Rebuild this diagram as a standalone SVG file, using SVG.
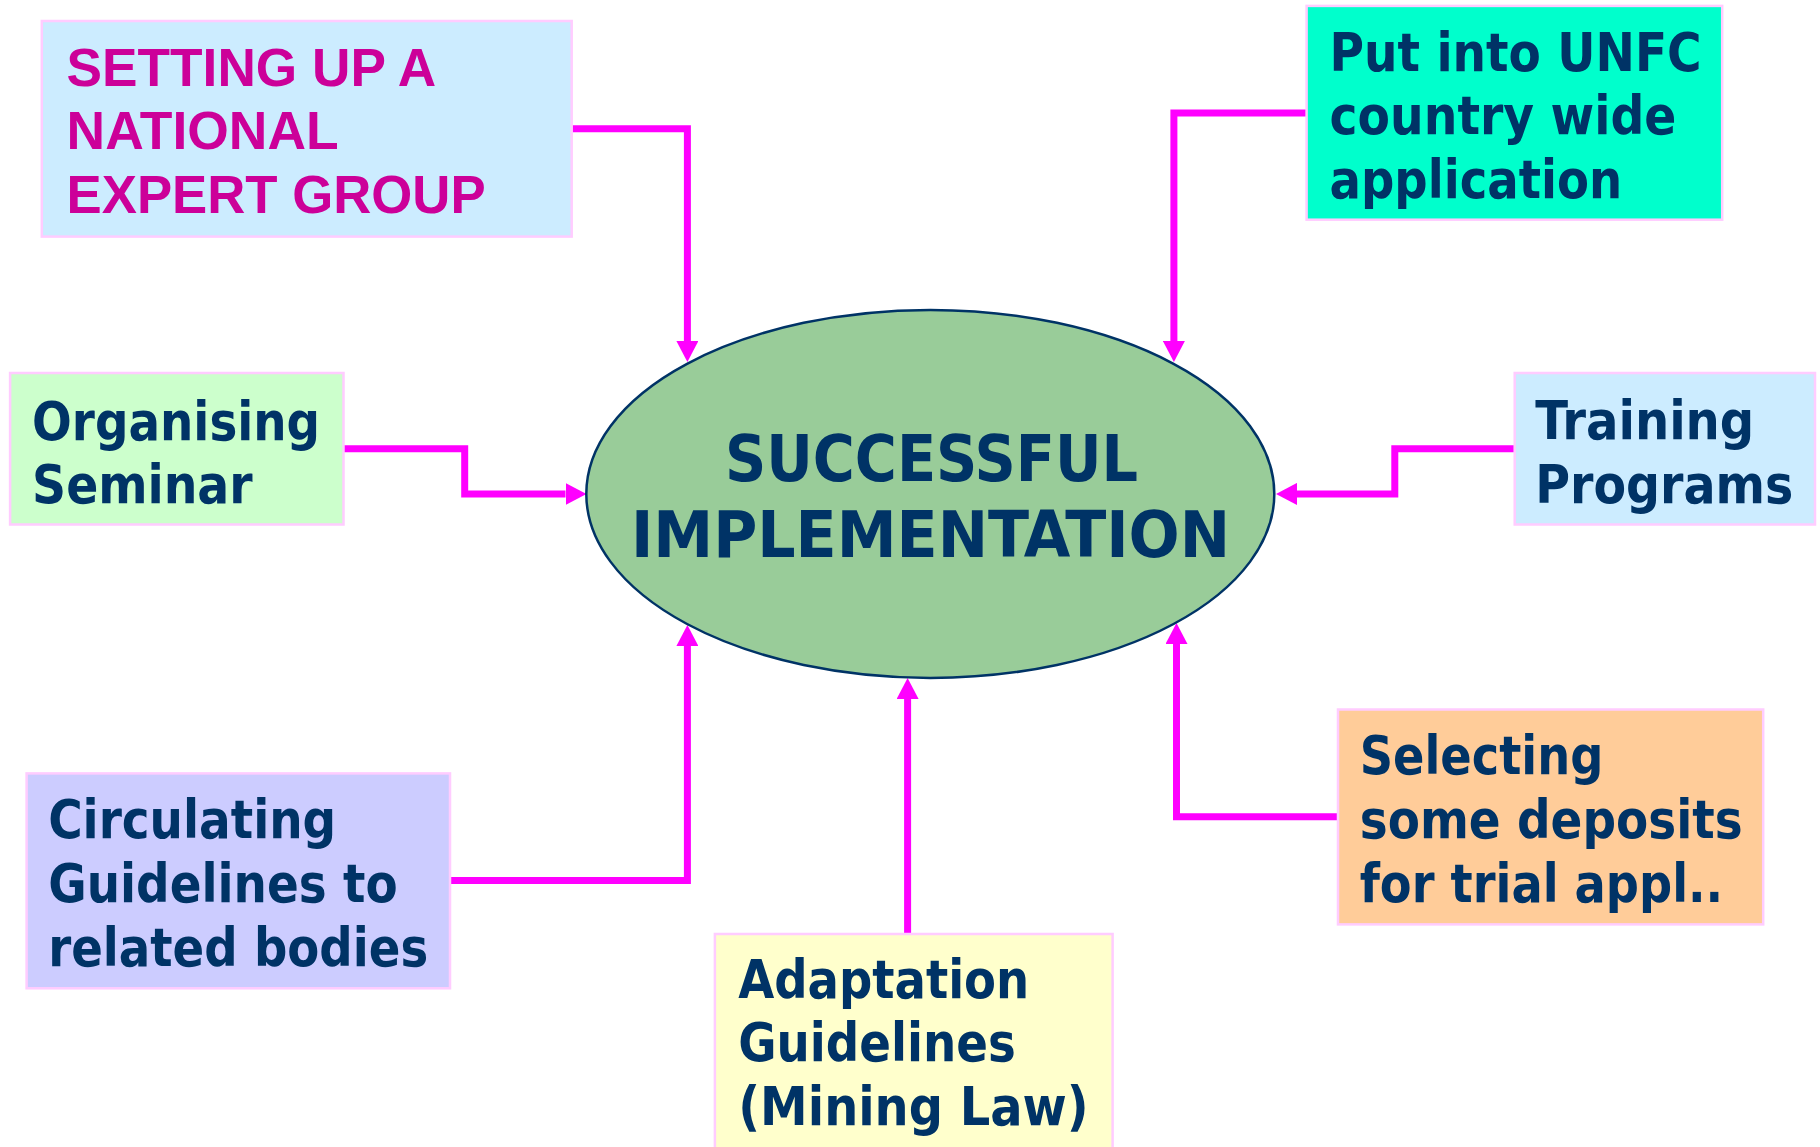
<svg xmlns="http://www.w3.org/2000/svg" width="1820" height="1147" viewBox="0 0 1820 1147">
<style>
.box{stroke:#FFCCFF;stroke-width:2.5}
.t{font-family:"DejaVu Sans Condensed","DejaVu Sans","Liberation Sans",sans-serif;font-stretch:condensed;font-weight:bold;font-size:54px;fill:#003366}
.m{font-family:"Liberation Sans",Arial,sans-serif;font-weight:bold;font-size:53px;fill:#CC0099}
.title{font-family:"DejaVu Sans Condensed","DejaVu Sans","Liberation Sans",sans-serif;font-stretch:condensed;font-weight:bold;font-size:64px;fill:#003366}
.c{fill:none;stroke:#FF00FF;stroke-width:7;marker-end:url(#ah)}
</style>
<defs>
<marker id="ah" viewBox="0 0 21 22" refX="0" refY="11" markerWidth="21" markerHeight="22" markerUnits="userSpaceOnUse" orient="auto">
<path d="M0,0 L21,11 L0,22 Z" fill="#FF00FF"/>
</marker>
</defs>
<rect width="1820" height="1147" fill="#FFFFFF"/>

<g id="connectors">
<path class="c" d="M571.7,128.8 H687.4 V341"/>
<path class="c" d="M343.5,448.8 H464.7 V493.9 H565.5"/>
<path class="c" d="M1306.6,113 H1173.9 V341"/>
<path class="c" d="M1514.7,448.8 H1394.8 V493.9 H1297"/>
<path class="c" d="M450,880.6 H687.4 V646"/>
<path class="c" d="M907.6,934 V699"/>
<path class="c" d="M1338,816.8 H1176.5 V644"/>
</g>

<g id="center">
<ellipse cx="930.3" cy="493.9" rx="344" ry="184" fill="#99CC99" stroke="#003366" stroke-width="2.5"/>
<text class="title" x="725" y="480.5" textLength="413" lengthAdjust="spacingAndGlyphs">SUCCESSFUL</text>
<text class="title" x="631" y="556.7" textLength="599" lengthAdjust="spacingAndGlyphs">IMPLEMENTATION</text>
</g>

<g id="expert-group">
<rect class="box" x="41.8" y="21" width="529.9" height="215.6" fill="#CCECFF"/>
<text class="m" x="66.6" y="86.1" textLength="369.6" lengthAdjust="spacingAndGlyphs">SETTING UP A</text>
<text class="m" x="66.6" y="149.1" textLength="272" lengthAdjust="spacingAndGlyphs">NATIONAL</text>
<text class="m" x="66.6" y="212.8" textLength="419" lengthAdjust="spacingAndGlyphs">EXPERT GROUP</text>
</g>

<g id="seminar">
<rect class="box" x="10.1" y="373" width="333.4" height="151.5" fill="#CCFFCC"/>
<text class="t" x="32.1" y="440.2" textLength="288" lengthAdjust="spacingAndGlyphs">Organising</text>
<text class="t" x="32.1" y="502.8" textLength="220.5" lengthAdjust="spacingAndGlyphs">Seminar</text>
</g>

<g id="unfc">
<rect class="box" x="1306.6" y="5.9" width="415.6" height="213.8" fill="#00FFCC"/>
<text class="t" x="1329.6" y="70.6" textLength="372" lengthAdjust="spacingAndGlyphs">Put into UNFC</text>
<text class="t" x="1329.6" y="134.3" textLength="346.7" lengthAdjust="spacingAndGlyphs">country wide</text>
<text class="t" x="1329.6" y="198" textLength="292.5" lengthAdjust="spacingAndGlyphs">application</text>
</g>

<g id="training">
<rect class="box" x="1514.7" y="373" width="300.3" height="151.5" fill="#CCECFF"/>
<text class="t" x="1535.3" y="439" textLength="219" lengthAdjust="spacingAndGlyphs">Training</text>
<text class="t" x="1535.3" y="502.8" textLength="258" lengthAdjust="spacingAndGlyphs">Programs</text>
</g>

<g id="circulating">
<rect class="box" x="26.6" y="773.4" width="423.4" height="214.9" fill="#CCCCFF"/>
<text class="t" x="48.2" y="838" textLength="288" lengthAdjust="spacingAndGlyphs">Circulating</text>
<text class="t" x="48.2" y="902" textLength="349.5" lengthAdjust="spacingAndGlyphs">Guidelines to</text>
<text class="t" x="48.2" y="965.8" textLength="380" lengthAdjust="spacingAndGlyphs">related bodies</text>
</g>

<g id="adaptation">
<rect class="box" x="714.9" y="934" width="397.7" height="230" fill="#FFFFCC"/>
<text class="t" x="738.2" y="998" textLength="291" lengthAdjust="spacingAndGlyphs">Adaptation</text>
<text class="t" x="738.2" y="1060.7" textLength="277.7" lengthAdjust="spacingAndGlyphs">Guidelines</text>
<text class="t" x="738.2" y="1125.3" textLength="350.4" lengthAdjust="spacingAndGlyphs">(Mining Law)</text>
</g>

<g id="selecting">
<rect class="box" x="1338" y="709.5" width="425.2" height="214.9" fill="#FFCC99"/>
<text class="t" x="1359.7" y="774.2" textLength="243.6" lengthAdjust="spacingAndGlyphs">Selecting</text>
<text class="t" x="1359.7" y="838" textLength="383" lengthAdjust="spacingAndGlyphs">some deposits</text>
<text class="t" x="1359.7" y="902" textLength="363.5" lengthAdjust="spacingAndGlyphs">for trial appl..</text>
</g>
</svg>
